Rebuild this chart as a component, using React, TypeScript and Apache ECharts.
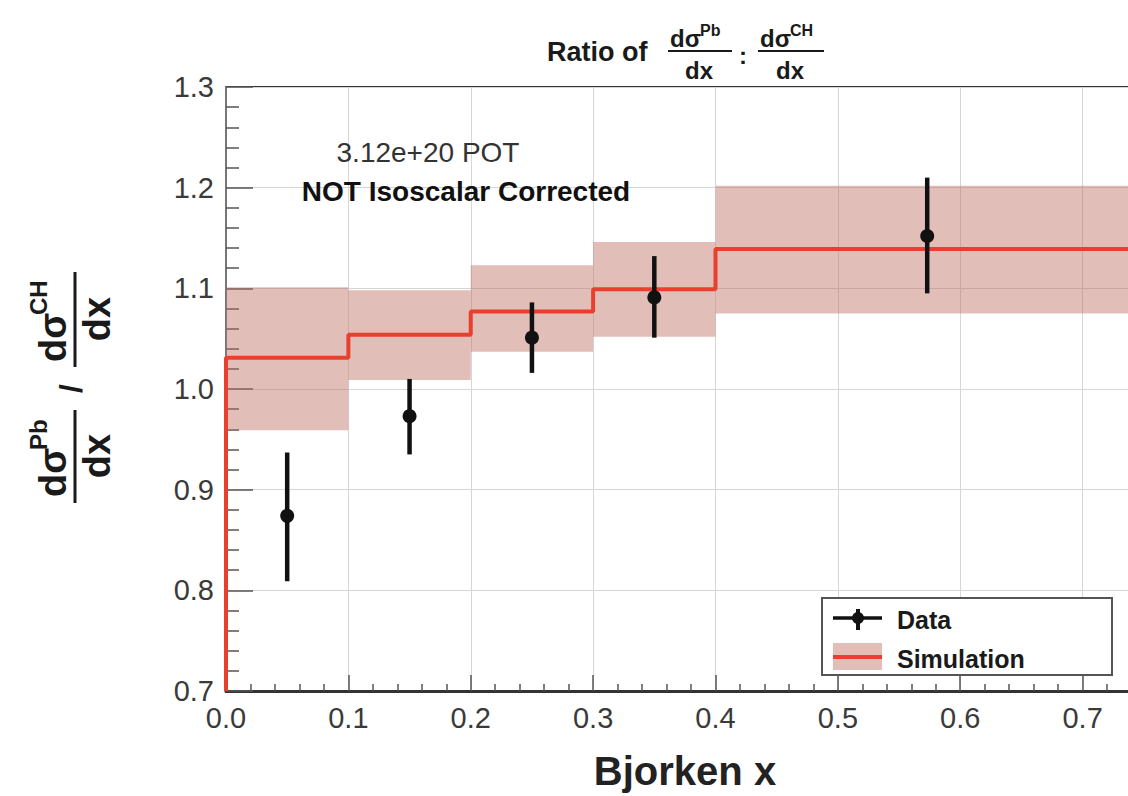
import React, { useEffect, useRef } from 'react';
import * as echarts from 'echarts';

// Simulation histogram (bin edges, central value, uncertainty band)
const binEdges = [0, 0.1, 0.2, 0.3, 0.4, 0.8];
const simValue = [1.031, 1.054, 1.077, 1.099, 1.139];
const simLow = [0.959, 1.009, 1.037, 1.052, 1.075];
const simHigh = [1.101, 1.098, 1.123, 1.146, 1.202];

// Data points with error bars
const dataX = [0.05, 0.15, 0.25, 0.35, 0.573];
const dataY = [0.874, 0.973, 1.051, 1.091, 1.152];
const dataLow = [0.809, 0.935, 1.016, 1.051, 1.095];
const dataHigh = [0.937, 1.010, 1.086, 1.132, 1.210];

const X_MIN = 0;
const X_MAX = 0.8;
const Y_MIN = 0.7;
const Y_MAX = 1.3;

const FONT = '"Liberation Sans", Arial, Helvetica, sans-serif';
const RED = '#e8402c';
const BAND = 'rgba(190,110,100,0.45)';

function txt(text: string, x: number, y: number, size: number, opts: any = {}) {
  const align = opts.align || 'left';
  const valign = opts.valign || 'middle';
  return {
    type: 'text',
    x,
    y,
    z: 100,
    style: {
      text,
      fontSize: size,
      fontFamily: FONT,
      fontWeight: opts.weight || 'bold',
      fill: opts.fill || '#1a1a1a',
      align,
      textAlign: align,
      verticalAlign: valign,
      textVerticalAlign: valign,
    },
  };
}

function ln(x1: number, y1: number, x2: number, y2: number, stroke: string, lw: number) {
  return { type: 'line', z: 100, shape: { x1, y1, x2, y2 }, style: { stroke, lineWidth: lw } };
}

export default function App() {
  const ref = useRef<HTMLDivElement>(null);

  useEffect(() => {
    if (!ref.current) return;
    const chart = echarts.init(ref.current, undefined, { renderer: 'svg' });

    const bandData = simValue.map((_, i) => [binEdges[i], binEdges[i + 1], simLow[i], simHigh[i]]);
    const stepData: number[][] = [[binEdges[0], Y_MIN]];
    simValue.forEach((v, i) => {
      stepData.push([binEdges[i], v]);
      stepData.push([binEdges[i + 1], v]);
    });
    const pointData = dataX.map((x, i) => [x, dataY[i], dataLow[i], dataHigh[i]]);

    const yLabelGroup = {
      type: 'group',
      x: 75,
      y: 390,
      rotation: Math.PI / 2,
      z: 100,
      children: [
        txt('dσ', -107, -22, 38),
        txt('Pb', -60, -37, 24),
        ln(-113, 0, -20, 0, '#1a1a1a', 3),
        txt('dx', -66, 22, 38, { align: 'center' }),
        txt('/', -3, -4, 32),
        txt('dσ', 28, -22, 38),
        txt('CH', 75, -37, 24),
        ln(23, 0, 118, 0, '#1a1a1a', 3),
        txt('dx', 71, 22, 38, { align: 'center' }),
      ],
    };

    const option: any = {
      animation: false,
      backgroundColor: '#ffffff',
      grid: {
        left: 226,
        top: 87,
        width: 979,
        height: 604,
        containLabel: false,
        outerBoundsMode: 'none',
        show: true,
        borderColor: '#333',
        borderWidth: 2,
        backgroundColor: 'transparent',
      },
      xAxis: {
        type: 'value',
        min: X_MIN,
        max: X_MAX,
        interval: 0.1,
        axisLine: { show: true, onZero: false, lineStyle: { color: '#333', width: 3 } },
        axisTick: { show: true, inside: true, length: 16, lineStyle: { color: '#555', width: 1.5 } },
        minorTick: { show: true, splitNumber: 5, length: 7, lineStyle: { color: '#555', width: 1.5 } },
        splitLine: { show: true, lineStyle: { color: '#d6d6d6', width: 1 } },
        axisLabel: {
          formatter: (v: number) => v.toFixed(1),
          fontSize: 29,
          fontFamily: FONT,
          color: '#3a3a3a',
          margin: 12,
          showMaxLabel: false,
        },
      },
      yAxis: {
        type: 'value',
        min: Y_MIN,
        max: Y_MAX,
        interval: 0.1,
        axisLine: { show: true, onZero: false, lineStyle: { color: '#777', width: 2 } },
        axisTick: { show: true, inside: true, length: 27, lineStyle: { color: '#555', width: 1.5 } },
        minorTick: { show: true, splitNumber: 5, length: 13, lineStyle: { color: '#555', width: 1.5 } },
        splitLine: { show: true, lineStyle: { color: '#d6d6d6', width: 1 } },
        axisLabel: {
          formatter: (v: number) => v.toFixed(1),
          fontSize: 29,
          fontFamily: FONT,
          color: '#3a3a3a',
          margin: 12,
        },
      },
      series: [
        {
          type: 'custom',
          name: 'band',
          z: 1,
          data: bandData,
          encode: { x: [0, 1], y: [2, 3] },
          renderItem: (params: any, api: any) => {
            const p0 = api.coord([api.value(0), api.value(3)]);
            const p1 = api.coord([api.value(1), api.value(2)]);
            return {
              type: 'rect',
              shape: { x: p0[0], y: p0[1], width: p1[0] - p0[0], height: p1[1] - p0[1] },
              style: { fill: BAND },
            };
          },
        },
        {
          type: 'line',
          name: 'Simulation',
          z: 3,
          data: stepData,
          showSymbol: false,
          symbol: 'none',
          lineStyle: { color: RED, width: 4 },
        },
        {
          type: 'custom',
          name: 'Data',
          z: 4,
          data: pointData,
          encode: { x: 0, y: [1, 2, 3] },
          renderItem: (params: any, api: any) => {
            const c = api.coord([api.value(0), api.value(1)]);
            const lo = api.coord([api.value(0), api.value(2)]);
            const hi = api.coord([api.value(0), api.value(3)]);
            return {
              type: 'group',
              children: [
                {
                  type: 'line',
                  shape: { x1: lo[0], y1: lo[1], x2: hi[0], y2: hi[1] },
                  style: { stroke: '#111', lineWidth: 4.5 },
                },
                {
                  type: 'circle',
                  shape: { cx: c[0], cy: c[1], r: 7 },
                  style: { fill: '#111' },
                },
              ],
            };
          },
        },
      ],
      graphic: [
        // Title
        txt('Ratio of', 547, 52, 27),
        txt('dσ', 670, 38, 24),
        txt('Pb', 700, 30, 16),
        ln(668, 51, 732, 51, '#1a1a1a', 2),
        txt('dx', 699, 70, 24, { align: 'center' }),
        txt(':', 743, 55, 24, { align: 'center' }),
        txt('dσ', 760, 38, 24),
        txt('CH', 790, 30, 16),
        ln(758, 51, 824, 51, '#1a1a1a', 2),
        txt('dx', 790, 70, 24, { align: 'center' }),
        // Y axis title
        yLabelGroup,
        // X axis title
        txt('Bjorken x', 685, 771, 40, { align: 'center', fill: '#222' }),
        // Annotations
        txt('3.12e+20 POT', 428, 152, 28, { align: 'center', weight: 'normal', fill: '#333' }),
        txt('NOT Isoscalar Corrected', 466, 191, 28, { align: 'center', fill: '#111' }),
        // Legend
        {
          type: 'rect',
          z: 99,
          shape: { x: 822, y: 598, width: 290, height: 77 },
          style: { fill: '#fff', stroke: '#555', lineWidth: 2 },
        },
        ln(833, 618, 882, 618, '#111', 3.5),
        ln(858, 609, 858, 630, '#111', 4),
        { type: 'circle', z: 100, shape: { cx: 858, cy: 618, r: 6 }, style: { fill: '#111' } },
        txt('Data', 897, 620, 25),
        { type: 'rect', z: 100, shape: { x: 833, y: 643, width: 49, height: 27 }, style: { fill: BAND } },
        ln(833, 657, 882, 657, RED, 4),
        txt('Simulation', 897, 659, 25),
      ],
    };

    chart.setOption(option);
    return () => chart.dispose();
  }, []);

  return (
    <div
      ref={ref}
      style={{
        position: 'fixed',
        left: 0,
        top: 0,
        width: 1128,
        height: 796,
        overflow: 'hidden',
        background: '#fff',
      }}
    />
  );
}
